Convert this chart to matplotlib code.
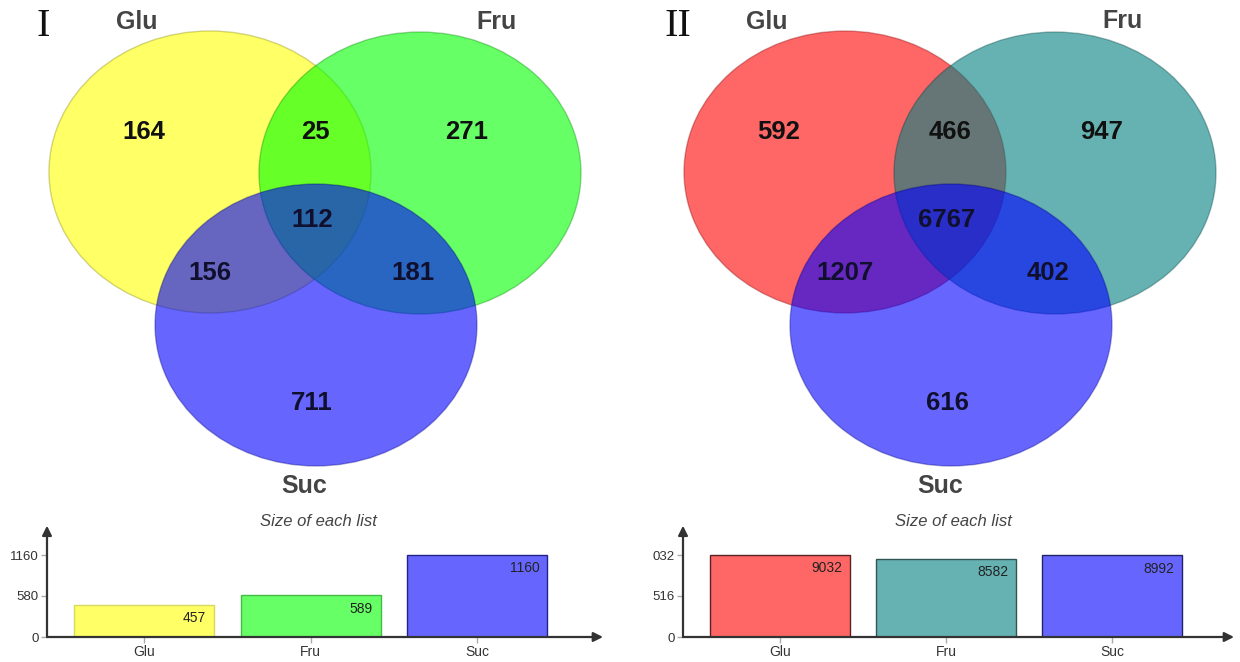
import matplotlib
matplotlib.use("Agg")
import matplotlib.pyplot as plt
from matplotlib.patches import Ellipse
from matplotlib.colors import to_rgb

# ---- data -------------------------------------------------------------
set_names = ["Glu", "Fru", "Suc"]

# region counts: only Glu, Glu&Fru, only Fru, all three, Glu&Suc, Fru&Suc, only Suc
regions_I = [164, 25, 271, 112, 156, 181, 711]
regions_II = [592, 466, 947, 6767, 1207, 402, 616]

list_sizes_I = [457, 589, 1160]
list_sizes_II = [9032, 8582, 8992]

ytick_vals_I = [0, 580, 1160]
ytick_labels_I = ["0", "580", "1160"]
ytick_vals_II = [0, 4516, 9032]
ytick_labels_II = ["0", "516", "032"]

colors_I = ["#FFFF00", "#00FF00", "#0000FF"]
colors_II = ["#FF0000", "#008080", "#0000FF"]

W, H = 1240, 662
fig = plt.figure(figsize=(W / 100, H / 100), dpi=100)
fig.patch.set_facecolor("white")

# full-figure canvas in pixel units for the Venn panels and free text
canvas = fig.add_axes([0, 0, 1, 1])
canvas.set_xlim(0, W)
canvas.set_ylim(H, 0)
canvas.axis("off")

SANS = ["Liberation Sans", "Arial", "DejaVu Sans"]
SERIF = ["Liberation Serif", "DejaVu Serif"]


def draw_venn(cx_off, regions, colors, roman, roman_x, name_pos):
    centers = [(210, 172), (420, 173), (316, 325)]
    rx, ry = 161, 141
    for (cx, cy), col in zip(centers, colors):
        r, g, b = to_rgb(col)
        canvas.add_patch(Ellipse((cx + cx_off, cy), 2 * rx, 2 * ry,
                                 facecolor=(r, g, b, 0.6),
                                 edgecolor=(r * 0.5, g * 0.5, b * 0.5, 0.35),
                                 lw=1.0, zorder=2))
    # region label positions
    pos = [(144, 132), (315, 132), (467, 132), (312, 220),
           (210, 273), (413, 273), (312, 403)]
    in_suc = [False, False, False, True, True, True, True]
    for (x, y), val, s in zip(pos, regions, in_suc):
        canvas.text(x + cx_off, y, f"{val}", ha="center", va="center",
                    fontsize=18.5, fontweight="bold", family=SANS,
                    color="#10102e" if s else "#111111", zorder=5)
    # set names
    for (x, y), name in zip(name_pos, set_names):
        canvas.text(x, y, name, ha="center", va="center",
                    fontsize=18, fontweight="bold", family=SANS,
                    color="#444444", zorder=5)
    canvas.text(roman_x, 27, roman, ha="center", va="center",
                fontsize=29, family=SERIF, color="#111111", zorder=5)


draw_venn(0, regions_I, colors_I, "I", 43,
          [(137, 22), (497, 22), (304, 486)])
draw_venn(635, regions_II, colors_II, "II", 678,
          [(767, 22), (1122, 21), (940, 486)])


def draw_bars(px_left, px_right, centers_px, sizes, colors, edge_colors,
              yticks, ylabels, title_x):
    px_bottom, px_top = 637, 530
    ax = fig.add_axes([px_left / W, (H - px_bottom) / H,
                       (px_right - px_left) / W, (px_bottom - px_top) / H])
    spacing = (centers_px[2] - centers_px[0]) / 2
    xl = -(centers_px[0] - px_left) / spacing
    xr = xl + (px_right - px_left) / spacing
    ax.set_xlim(xl, xr)
    top_px = 555
    ymax = max(sizes) * (px_bottom - px_top) / (px_bottom - top_px)
    ax.set_ylim(0, ymax)
    width = 140 / spacing
    xs = list(range(len(sizes)))
    for x, v, c, ec in zip(xs, sizes, colors, edge_colors):
        r, g, b = to_rgb(c)
        ax.bar(x, v, width=width, color=(r, g, b, 0.6), edgecolor=ec,
               linewidth=1.0, zorder=2)
        ax.annotate(f"{v}", xy=(x + width / 2, v), xytext=(-5.5, -9.5),
                    textcoords="offset points", ha="right", va="center",
                    fontsize=10, family=SANS, color="#222222", zorder=3)
    for sp in ax.spines.values():
        sp.set_visible(False)
    ax.patch.set_alpha(0)
    ax.set_xticks(xs)
    ax.set_xticklabels(set_names, family=SANS)
    ax.set_yticks(yticks)
    ax.set_yticklabels(ylabels, family=SANS)
    ax.tick_params(axis="both", length=4, width=1, color="#aaaaaa",
                   labelcolor="#333333", pad=2)
    ax.tick_params(axis="x", labelsize=10)
    ax.tick_params(axis="y", labelsize=9.5)
    arrow = dict(arrowstyle="-|>", color="#333333", lw=1.6,
                 mutation_scale=14, shrinkA=0, shrinkB=0)
    ax.annotate("", xy=(0, 1.04), xytext=(0, 0), xycoords="axes fraction",
                textcoords="axes fraction", arrowprops=arrow,
                annotation_clip=False)
    ax.annotate("", xy=(1.0, 0), xytext=(0, 0), xycoords="axes fraction",
                textcoords="axes fraction", arrowprops=arrow,
                annotation_clip=False)
    canvas.text(title_x, 522, "Size of each list", ha="center", va="center",
                fontsize=12, style="italic", family=SANS, color="#444444")
    return ax


draw_bars(47, 603, [144, 310, 477], list_sizes_I, colors_I,
          ["#d8d860", "#44bb44", "#222288"], ytick_vals_I, ytick_labels_I, 318)
draw_bars(683, 1234, [780, 946, 1112], list_sizes_II, colors_II,
          ["#5a2222", "#2f5555", "#222266"], ytick_vals_II, ytick_labels_II, 953)

fig.savefig("out.png", dpi=100, facecolor="white")
